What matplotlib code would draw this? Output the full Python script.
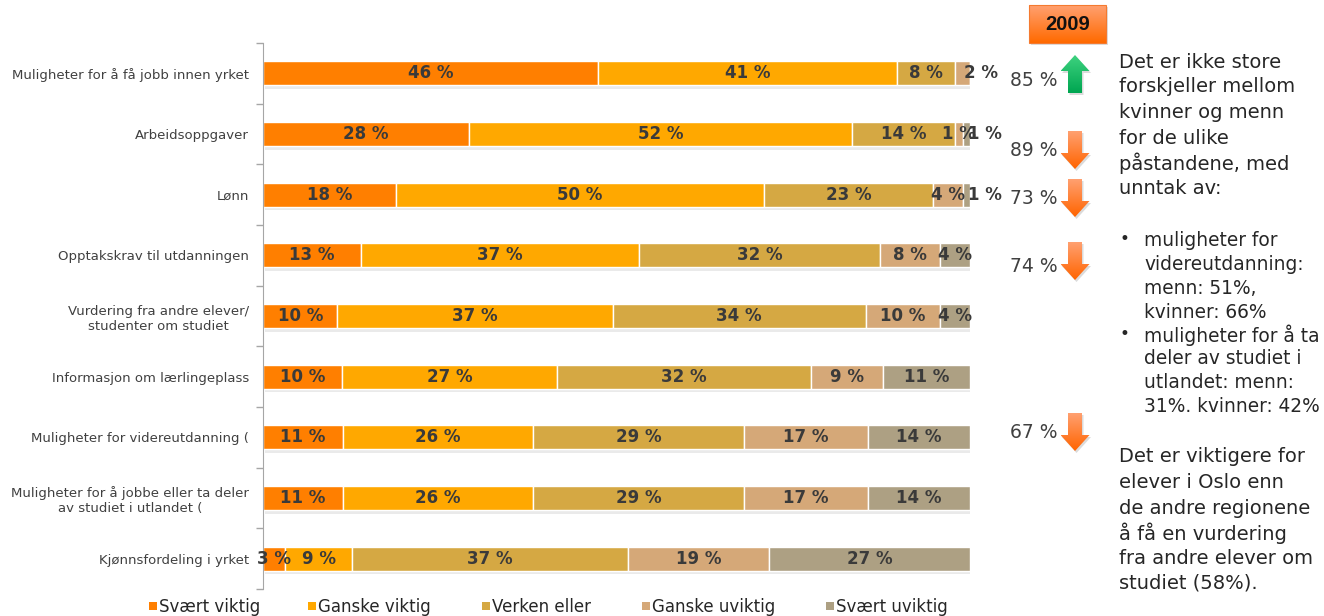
import numpy as np
import matplotlib
matplotlib.use("Agg")
import matplotlib.pyplot as plt
from matplotlib.patches import Polygon, Rectangle

plt.rcParams['font.family'] = ['DejaVu Sans']

# data
categories = [
    'Muligheter for å få jobb innen yrket',
    'Arbeidsoppgaver',
    'Lønn',
    'Opptakskrav til utdanningen',
    'Vurdering fra andre elever/\nstudenter om studiet',
    'Informasjon om lærlingeplass',
    'Muligheter for videreutdanning (',
    'Muligheter for å jobbe eller ta deler\nav studiet i utlandet (',
    'Kjønnsfordeling i yrket',
]
series_names = ['Svært viktig', 'Ganske viktig', 'Verken eller', 'Ganske uviktig', 'Svært uviktig']
svaert_viktig = [46, 28, 18, 13, 10, 10, 11, 11, 3]
ganske_viktig = [41, 52, 50, 37, 37, 27, 26, 26, 9]
verken_eller = [8, 14, 23, 32, 34, 32, 29, 29, 37]
ganske_uviktig = [2, 1, 4, 8, 10, 9, 17, 17, 19]
svaert_uviktig = [0, 1, 1, 4, 4, 11, 14, 14, 27]
colors = ['#FF7F00', '#FFA800', '#D5A843', '#D5A878', '#ADA083']

# 2009 comparison
values_2009 = [85, 89, 73, 74, 67]
up_2009 = [True, False, False, False, False]
# layout of the 2009 column (pixels from top)
text_y_2009 = [80, 150, 198, 267, 433]
arrow_top_2009 = [55, 131, 179, 242, 413]

W, H = 1324, 616
fig = plt.figure(figsize=(W / 100, H / 100), dpi=100)
ax = fig.add_axes([263 / W, (H - 589) / H, (970 - 263) / W, (589 - 43) / H])

data = np.array([svaert_viktig, ganske_viktig, verken_eller, ganske_uviktig, svaert_uviktig], dtype=float)
totals = data.sum(axis=0)
shares = data / totals * 100  # 100 % stacked, like the original
y = np.arange(len(categories))

# soft shadow under the bars
ax.barh(y + 0.06, 100, height=0.4, left=0.25, color='#cccccc', alpha=0.4, zorder=1)

left = np.zeros(len(categories))
for i, name in enumerate(series_names):
    ax.barh(y, shares[i], height=0.4, left=left, color=colors[i],
            edgecolor='white', linewidth=1, zorder=2, label=name)
    for r in range(len(categories)):
        v = data[i, r]
        if v <= 0:
            continue
        xc = left[r] + shares[i, r] / 2
        last = data[i + 1:, r].sum() == 0
        if v <= 2 and last:
            xc += 2.6
        ax.text(xc, r, f'{int(v)} %', ha='center', va='center', fontsize=12,
                fontweight='bold', color='#3a3a3a', zorder=3, clip_on=False)
    left += shares[i]

ax.set_xlim(0, 100)
ax.set_ylim(len(categories) - 0.5, -0.5)
ax.set_xticks([])
ax.set_yticks(y)
ax.set_yticklabels(categories, fontsize=9.5, color='#404040')
for t in ax.get_yticklabels():
    t.set_multialignment('center')
ax.set_yticks(np.arange(-0.5, len(categories), 1), minor=True)
ax.tick_params(axis='y', which='major', length=0, pad=10)
ax.tick_params(axis='y', which='minor', length=5, color='#A6A6A6', width=1)
for s in ['top', 'right', 'bottom']:
    ax.spines[s].set_visible(False)
ax.spines['left'].set_color('#A6A6A6')

# overlay in pixel coordinates for the annotations
ov = fig.add_axes([0, 0, 1, 1])
ov.set_autoscale_on(False)
ov.set_xlim(0, W)
ov.set_ylim(H, 0)
ov.axis('off')


def gradient_fill(patch, top_col, bot_col, extent):
    c0 = np.array(matplotlib.colors.to_rgb(top_col))
    c1 = np.array(matplotlib.colors.to_rgb(bot_col))
    t = np.linspace(0, 1, 64)[:, None, None]
    img = c0 * (1 - t) + c1 * t
    im = ov.imshow(img, extent=extent, aspect='auto', interpolation='bilinear', zorder=5)
    ov.add_patch(patch)
    im.set_clip_path(patch)


def arrow(cx, top, up, length=38):
    sw, hw, hl = 7, 14.5, 16
    bot = top + length
    if up:
        pts = [(cx, top), (cx + hw, top + hl), (cx + sw, top + hl), (cx + sw, bot),
               (cx - sw, bot), (cx - sw, top + hl), (cx - hw, top + hl)]
        c0, c1 = '#3ED27F', '#00A651'
    else:
        pts = [(cx - sw, top), (cx + sw, top), (cx + sw, bot - hl), (cx + hw, bot - hl),
               (cx, bot), (cx - hw, bot - hl), (cx - sw, bot - hl)]
        c0, c1 = '#FFA070', '#FF6400'
    shadow = Polygon([(px + 1.5, py + 2) for px, py in pts], closed=True,
                     facecolor='#999999', alpha=0.35, edgecolor='none', zorder=4)
    ov.add_patch(shadow)
    poly = Polygon(pts, closed=True, facecolor='none', edgecolor='none', zorder=5)
    gradient_fill(poly, c0, c1, (cx - hw, cx + hw, bot, top))


for v, up, ty, at in zip(values_2009, up_2009, text_y_2009, arrow_top_2009):
    ov.text(1058, ty, f'{v} %', ha='right', va='center', fontsize=13.5, color='#404040')
    arrow(1075, at, up)

# 2009 box
ov.add_patch(Rectangle((1031, 7), 77, 38, facecolor='#aaaaaa', alpha=0.4, edgecolor='none', zorder=4))
box = Rectangle((1029, 5), 77, 38, facecolor='none', edgecolor='#F47A30', linewidth=0.8, zorder=6)
gradient_fill(box, '#FFA070', '#FF6A00', (1029, 1106, 43, 5))
ov.text(1067.5, 24, '2009', ha='center', va='center', fontsize=14.5, fontweight='bold',
        color='#111111', zorder=7, family='Liberation Sans')

# text on the right
para1 = ['Det er ikke store', 'forskjeller mellom', 'kvinner og menn', 'for de ulike',
         'påstandene, med', 'unntak av:']
para1_y = [62, 87, 112, 138, 163, 189]
bullets = ['muligheter for', 'videreutdanning:', 'menn: 51%,', 'kvinner: 66%',
           'muligheter for å ta', 'deler av studiet i', 'utlandet: menn:', '31%. kvinner: 42%']
bullets_y = [240, 264, 288, 312, 335, 358, 383, 407]
bullet_start = [0, 4]
para3 = ['Det er viktigere for', 'elever i Oslo enn', 'de andre regionene', 'å få en vurdering',
         'fra andre elever om', 'studiet (58%).']
para3_y = [456, 482, 508, 533, 559, 583]

txt = dict(fontsize=14, color='#262626', va='center', ha='left')
for s, yy in zip(para1, para1_y):
    ov.text(1119, yy, s, **txt)
for k, (s, yy) in enumerate(zip(bullets, bullets_y)):
    ov.text(1144, yy, s, fontsize=13.4, color='#262626', va='center', ha='left')
    if k in bullet_start:
        ov.text(1120, yy - 1, '•', fontsize=12, color='#262626', va='center', ha='left')
for s, yy in zip(para3, para3_y):
    ov.text(1119, yy, s, **txt)

# legend along the bottom
legend_x = [149, 308, 482, 642, 826]
for name, col, lx in zip(series_names, colors, legend_x):
    ov.add_patch(Rectangle((lx, 602), 8, 8, facecolor=col, edgecolor='none', zorder=5))
    ov.text(lx + 10, 607, name, fontsize=12, color='#262626', va='center', ha='left')

fig.savefig('out.png', dpi=100)
